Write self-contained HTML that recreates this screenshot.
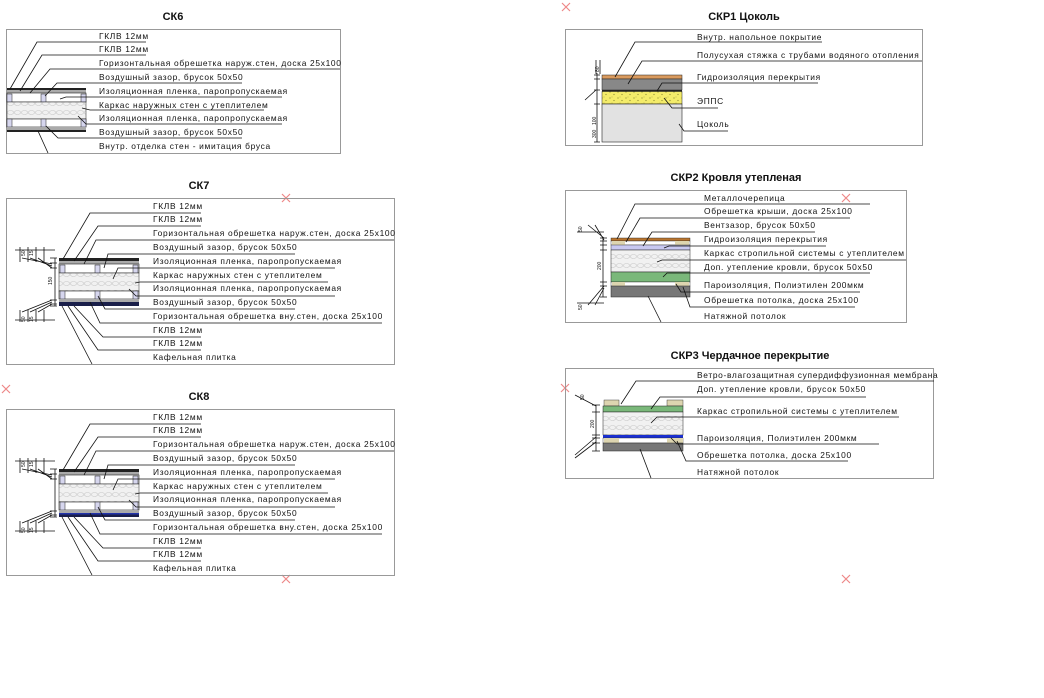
<!DOCTYPE html>
<html><head><meta charset="utf-8">
<style>
html,body{margin:0;padding:0;background:#fff;}
svg{display:block;}
text{font-family:"Liberation Sans","DejaVu Sans",sans-serif;font-size:8.4px;fill:#111;letter-spacing:0.68px;}
text.t{font-size:11px;font-weight:bold;letter-spacing:0;}
text.d{font-size:5px;letter-spacing:0;}
.fr{fill:none;stroke:#999;stroke-width:1;}
.ln{stroke:#111;stroke-width:0.8;fill:none;}
.x{stroke:#e88;stroke-width:1.2;}
</style></head><body>
<svg width="1044" height="698" viewBox="0 0 1044 698" xmlns="http://www.w3.org/2000/svg">
<defs>
<pattern id="ins" width="14" height="9" patternUnits="userSpaceOnUse">
<rect width="14" height="9" fill="#f1f1f1"/>
<path d="M0 4.5 Q3.5 0 7 4.5 Q10.5 9 14 4.5 M0 4.5 Q3.5 9 7 4.5 Q10.5 0 14 4.5" stroke="#c8c8c8" stroke-width="0.6" fill="none"/>
</pattern>
<pattern id="sand" width="8" height="6" patternUnits="userSpaceOnUse">
<rect width="8" height="6" fill="#f4ec6a"/>
<circle cx="2" cy="2" r="0.6" fill="#8a8a30"/><circle cx="6" cy="4.5" r="0.6" fill="#8a8a30"/><circle cx="4" cy="1" r="0.4" fill="#8a8a30"/>
</pattern>
</defs>

<g class="x">
<path d="M562 3 l8 8 M570 3 l-8 8"/>
<path d="M282 194 l8 8 M290 194 l-8 8"/>
<path d="M842 194 l8 8 M850 194 l-8 8"/>
<path d="M2 385 l8 8 M10 385 l-8 8"/>
<path d="M561 384 l8 8 M569 384 l-8 8"/>
<path d="M282 575 l8 8 M290 575 l-8 8"/>
<path d="M842 575 l8 8 M850 575 l-8 8"/>
</g>

<!-- СК6 -->
<text class="t" x="173" y="20" text-anchor="middle">СК6</text>
<rect class="fr" x="6.5" y="29.5" width="334" height="124"/>
<rect x="7" y="88" width="79" height="2" fill="#222"/>
<rect x="7" y="90" width="79" height="3" fill="#aaa"/>
<rect x="7" y="93" width="79" height="9" fill="#fff" stroke="#222" stroke-width="0.6"/>
<rect x="7" y="94" width="5" height="8" fill="#d6d6ee" stroke="#222" stroke-width="0.5"/>
<rect x="41" y="94" width="5" height="8" fill="#d6d6ee" stroke="#222" stroke-width="0.5"/>
<rect x="81" y="94" width="5" height="8" fill="#d6d6ee" stroke="#222" stroke-width="0.5"/>
<rect x="7" y="102" width="79" height="17" fill="url(#ins)" stroke="#222" stroke-width="0.5"/>
<rect x="7" y="119" width="79" height="8" fill="#fff" stroke="#222" stroke-width="0.6"/>
<rect x="7" y="119" width="5" height="8" fill="#d6d6ee" stroke="#222" stroke-width="0.5"/>
<rect x="41" y="119" width="5" height="8" fill="#d6d6ee" stroke="#222" stroke-width="0.5"/>
<rect x="81" y="119" width="5" height="8" fill="#d6d6ee" stroke="#222" stroke-width="0.5"/>
<rect x="7" y="127" width="79" height="3" fill="#aaa"/>
<rect x="7" y="130" width="79" height="2" fill="#222"/>
<g class="ln">
<path d="M10 89 L37 42 H146"/>
<path d="M20 91 L42 55 H146"/>
<path d="M30 93 L50 69 H340"/>
<path d="M45 96 L57 83 H242"/>
<path d="M60 99 L66 97 H282"/>
<path d="M82 108 L90 110 H264"/>
<path d="M78 116 L86 124 H282"/>
<path d="M46 126 L58 138 H242"/>
<path d="M38 131 L48 153"/>
</g>
<text x="99" y="39">ГКЛВ 12мм</text>
<text x="99" y="52">ГКЛВ 12мм</text>
<text x="99" y="66">Горизонтальная обрешетка наруж.стен, доска 25х100</text>
<text x="99" y="80">Воздушный зазор, брусок 50х50</text>
<text x="99" y="94">Изоляционная пленка, паропропускаемая</text>
<text x="99" y="108">Каркас наружных стен с утеплителем</text>
<text x="99" y="121">Изоляционная пленка, паропропускаемая</text>
<text x="99" y="135">Воздушный зазор, брусок 50х50</text>
<text x="99" y="149">Внутр. отделка стен - имитация бруса</text>

<!-- СК7 -->
<g>
<text class="t" x="199" y="189" text-anchor="middle">СК7</text>
<rect class="fr" x="6.5" y="198.5" width="388" height="166"/>
<rect x="59" y="258" width="80" height="3" fill="#222"/>
<rect x="59" y="261" width="80" height="3" fill="#aaa"/>
<rect x="59" y="264" width="80" height="9" fill="#fff" stroke="#222" stroke-width="0.6"/>
<rect x="60" y="265" width="5" height="8" fill="#d6d6ee" stroke="#222" stroke-width="0.5"/>
<rect x="95" y="265" width="5" height="8" fill="#d6d6ee" stroke="#222" stroke-width="0.5"/>
<rect x="133" y="265" width="5" height="8" fill="#d6d6ee" stroke="#222" stroke-width="0.5"/>
<rect x="59" y="273" width="80" height="18" fill="url(#ins)" stroke="#222" stroke-width="0.5"/>
<rect x="59" y="291" width="80" height="8" fill="#fff" stroke="#222" stroke-width="0.6"/>
<rect x="60" y="291" width="5" height="8" fill="#d6d6ee" stroke="#222" stroke-width="0.5"/>
<rect x="95" y="291" width="5" height="8" fill="#d6d6ee" stroke="#222" stroke-width="0.5"/>
<rect x="133" y="291" width="5" height="8" fill="#d6d6ee" stroke="#222" stroke-width="0.5"/>
<rect x="59" y="299" width="80" height="3" fill="#aaa"/>
<rect x="59" y="302" width="80" height="4" fill="#1a1f4a"/>
<g class="ln">
<path d="M63 259 L90 213 H201"/>
<path d="M74 261 L98 226 H201"/>
<path d="M84 264 L96 240 H394"/>
<path d="M104 268 L108 254 H295"/>
<path d="M113 279 L118 268 H335"/>
<path d="M135 283 L140 282 H328"/>
<path d="M129 289 L136 296 H335"/>
<path d="M98 296 L105 309 H295"/>
<path d="M90 302 L100 323 H382"/>
<path d="M74 306 L103 337 H201"/>
<path d="M68 306 L98 350 H201"/>
<path d="M62 306 L92 364"/>
<path d="M55 258 V306 M50 258 H57 M50 263 H57 M50 268 H57 M50 300 H57 M50 304 H57 M50 306 H57"/>
<path d="M15 250 H55 M15 320 H55 M20 247 V262 M28 247 V262 M36 247 V262 M44 247 V262 M20 310 V322 M28 310 V322 M36 310 V322 M44 310 V322"/>
<path d="M22 258 L52 264 M30 258 L52 266 M38 258 L52 268 M22 312 L52 300 M30 312 L52 302 M38 312 L52 304"/>
</g>
<text class="d" x="0" y="0" transform="translate(25,256) rotate(-90)">50</text>
<text class="d" x="0" y="0" transform="translate(33,256) rotate(-90)">15</text>
<text class="d" x="0" y="0" transform="translate(25,322) rotate(-90)">50</text>
<text class="d" x="0" y="0" transform="translate(33,322) rotate(-90)">15</text>
<text class="d" x="0" y="0" transform="translate(52,285) rotate(-90)">150</text>
<text x="153" y="209">ГКЛВ 12мм</text>
<text x="153" y="222">ГКЛВ 12мм</text>
<text x="153" y="236">Горизонтальная обрешетка наруж.стен, доска 25х100</text>
<text x="153" y="250">Воздушный зазор, брусок 50х50</text>
<text x="153" y="264">Изоляционная пленка, паропропускаемая</text>
<text x="153" y="278">Каркас наружных стен с утеплителем</text>
<text x="153" y="291">Изоляционная пленка, паропропускаемая</text>
<text x="153" y="305">Воздушный зазор, брусок 50х50</text>
<text x="153" y="319">Горизонтальная обрешетка вну.стен, доска 25х100</text>
<text x="153" y="333">ГКЛВ 12мм</text>
<text x="153" y="346">ГКЛВ 12мм</text>
<text x="153" y="360">Кафельная плитка</text>
</g>

<!-- СК8 -->
<g transform="translate(0,211)">
<text class="t" x="199" y="189" text-anchor="middle">СК8</text>
<rect class="fr" x="6.5" y="198.5" width="388" height="166"/>
<rect x="59" y="258" width="80" height="3" fill="#222"/>
<rect x="59" y="261" width="80" height="3" fill="#aaa"/>
<rect x="59" y="264" width="80" height="9" fill="#fff" stroke="#222" stroke-width="0.6"/>
<rect x="60" y="265" width="5" height="8" fill="#d6d6ee" stroke="#222" stroke-width="0.5"/>
<rect x="95" y="265" width="5" height="8" fill="#d6d6ee" stroke="#222" stroke-width="0.5"/>
<rect x="133" y="265" width="5" height="8" fill="#d6d6ee" stroke="#222" stroke-width="0.5"/>
<rect x="59" y="273" width="80" height="18" fill="url(#ins)" stroke="#222" stroke-width="0.5"/>
<rect x="59" y="291" width="80" height="8" fill="#fff" stroke="#222" stroke-width="0.6"/>
<rect x="60" y="291" width="5" height="8" fill="#d6d6ee" stroke="#222" stroke-width="0.5"/>
<rect x="95" y="291" width="5" height="8" fill="#d6d6ee" stroke="#222" stroke-width="0.5"/>
<rect x="133" y="291" width="5" height="8" fill="#d6d6ee" stroke="#222" stroke-width="0.5"/>
<rect x="59" y="299" width="80" height="3" fill="#aaa"/>
<rect x="59" y="302" width="80" height="1.5" fill="#2233aa"/>
<rect x="59" y="303.5" width="80" height="2.5" fill="#1a1f4a"/>
<g class="ln">
<path d="M63 259 L90 213 H201"/>
<path d="M74 261 L98 226 H201"/>
<path d="M84 264 L96 240 H394"/>
<path d="M104 268 L108 254 H295"/>
<path d="M113 279 L118 268 H335"/>
<path d="M135 283 L140 282 H328"/>
<path d="M129 289 L136 296 H335"/>
<path d="M98 296 L105 309 H295"/>
<path d="M90 302 L100 323 H382"/>
<path d="M74 306 L103 337 H201"/>
<path d="M68 306 L98 350 H201"/>
<path d="M62 306 L92 364"/>
<path d="M55 258 V306 M50 258 H57 M50 263 H57 M50 268 H57 M50 300 H57 M50 304 H57 M50 306 H57"/>
<path d="M15 250 H55 M15 320 H55 M20 247 V262 M28 247 V262 M36 247 V262 M44 247 V262 M20 310 V322 M28 310 V322 M36 310 V322 M44 310 V322"/>
<path d="M22 258 L52 264 M30 258 L52 266 M38 258 L52 268 M22 312 L52 300 M30 312 L52 302 M38 312 L52 304"/>
</g>
<text class="d" x="0" y="0" transform="translate(25,256) rotate(-90)">50</text>
<text class="d" x="0" y="0" transform="translate(33,256) rotate(-90)">15</text>
<text class="d" x="0" y="0" transform="translate(25,322) rotate(-90)">50</text>
<text class="d" x="0" y="0" transform="translate(33,322) rotate(-90)">15</text>
<text x="153" y="209">ГКЛВ 12мм</text>
<text x="153" y="222">ГКЛВ 12мм</text>
<text x="153" y="236">Горизонтальная обрешетка наруж.стен, доска 25х100</text>
<text x="153" y="250">Воздушный зазор, брусок 50х50</text>
<text x="153" y="264">Изоляционная пленка, паропропускаемая</text>
<text x="153" y="278">Каркас наружных стен с утеплителем</text>
<text x="153" y="291">Изоляционная пленка, паропропускаемая</text>
<text x="153" y="305">Воздушный зазор, брусок 50х50</text>
<text x="153" y="319">Горизонтальная обрешетка вну.стен, доска 25х100</text>
<text x="153" y="333">ГКЛВ 12мм</text>
<text x="153" y="346">ГКЛВ 12мм</text>
<text x="153" y="360">Кафельная плитка</text>
</g>

<!-- СКР1 -->
<text class="t" x="744" y="20" text-anchor="middle">СКР1 Цоколь</text>
<rect class="fr" x="565.5" y="29.5" width="357" height="116"/>
<rect x="602" y="75" width="80" height="4" fill="#d99a5e" stroke="#222" stroke-width="0.5"/>
<rect x="602" y="79" width="80" height="11" fill="#888" stroke="#222" stroke-width="0.5"/>
<rect x="602" y="90" width="80" height="1.5" fill="#222"/>
<rect x="602" y="91.5" width="80" height="12.5" fill="url(#sand)" stroke="#222" stroke-width="0.5"/>
<rect x="602" y="104" width="80" height="38" fill="#e2e2e2" stroke="#222" stroke-width="0.6"/>
<g class="ln">
<path d="M615 77 L635 42 H822"/>
<path d="M628 84 L642 61 H922"/>
<path d="M657 91 L662 83 H818"/>
<path d="M664 98 L672 108 H718"/>
<path d="M679 124 L684 131 H728"/>
<path d="M597 73 V142 M594 75 H600 M594 79 H600 M594 90 H600 M594 104 H600 M594 142 H600"/>
<path d="M596 60 V74 M600 60 V74 M585 100 L596 90"/>
</g>
<text class="d" x="0" y="0" transform="translate(599,72) rotate(-90)">80</text>
<text class="d" x="0" y="0" transform="translate(596,125) rotate(-90)">100</text>
<text class="d" x="0" y="0" transform="translate(596,138) rotate(-90)">300</text>
<text x="697" y="40">Внутр. напольное покрытие</text>
<text x="697" y="58">Полусухая стяжка с трубами водяного отопления</text>
<text x="697" y="80">Гидроизоляция перекрытия</text>
<text x="697" y="104">ЭППС</text>
<text x="697" y="127">Цоколь</text>

<!-- СКР2 -->
<text class="t" x="736" y="181" text-anchor="middle">СКР2 Кровля утепленая</text>
<rect class="fr" x="565.5" y="190.5" width="341" height="132"/>
<rect x="611" y="238" width="79" height="3" fill="#b8742e" stroke="#222" stroke-width="0.4"/>
<rect x="611" y="241" width="79" height="4" fill="#fff" stroke="#222" stroke-width="0.4"/>
<rect x="612" y="241" width="13" height="4" fill="#ddd5b0"/>
<rect x="675" y="241" width="14" height="4" fill="#ddd5b0"/>
<rect x="611" y="245" width="79" height="5" fill="#c8c8f0" stroke="#222" stroke-width="0.4"/>
<rect x="611" y="250" width="79" height="22" fill="url(#ins)" stroke="#222" stroke-width="0.5"/>
<rect x="611" y="272" width="79" height="10" fill="#7ab87a" stroke="#222" stroke-width="0.5"/>
<rect x="611" y="282" width="79" height="4" fill="#fff" stroke="#222" stroke-width="0.4"/>
<rect x="612" y="282" width="13" height="4" fill="#ddd5b0"/>
<rect x="675" y="282" width="14" height="4" fill="#ddd5b0"/>
<rect x="611" y="286" width="79" height="11" fill="#777" stroke="#222" stroke-width="0.5"/>
<g class="ln">
<path d="M617 239 L635 204 H870"/>
<path d="M626 242 L640 218 H850"/>
<path d="M643 246 L652 232 H815"/>
<path d="M664 248 L669 246 H826"/>
<path d="M657 262 L662 260 H906"/>
<path d="M663 277 L667 273 H870"/>
<path d="M676 284 L681 292 H860"/>
<path d="M683 287 L690 307 H855"/>
<path d="M648 296 L661 322"/>
<path d="M603 238 V297 M600 238 H607 M600 241 H607 M600 245 H607 M600 250 H607 M600 282 H607 M600 286 H607 M600 297 H607"/>
<path d="M577 232 H604 M577 303 H604 M588 225 L604 238 M595 225 L604 240 M588 305 L604 286 M595 305 L604 288"/>
</g>
<text class="d" x="0" y="0" transform="translate(582,232) rotate(-90)">50</text>
<text class="d" x="0" y="0" transform="translate(601,270) rotate(-90)">200</text>
<text class="d" x="0" y="0" transform="translate(582,310) rotate(-90)">50</text>
<text x="704" y="201">Металлочерепица</text>
<text x="704" y="214">Обрешетка крыши, доска 25х100</text>
<text x="704" y="228">Вентзазор, брусок 50х50</text>
<text x="704" y="242">Гидроизоляция перекрытия</text>
<text x="704" y="256">Каркас стропильной системы с утеплителем</text>
<text x="704" y="270">Доп. утепление кровли, брусок 50х50</text>
<text x="704" y="288">Пароизоляция, Полиэтилен 200мкм</text>
<text x="704" y="303">Обрешетка потолка, доска 25х100</text>
<text x="704" y="319">Натяжной потолок</text>

<!-- СКР3 -->
<text class="t" x="750" y="359" text-anchor="middle">СКР3 Чердачное перекрытие</text>
<rect class="fr" x="565.5" y="368.5" width="368" height="110"/>
<rect x="604" y="400" width="15" height="6" fill="#ddd5b0" stroke="#222" stroke-width="0.4"/>
<rect x="667" y="400" width="16" height="6" fill="#ddd5b0" stroke="#222" stroke-width="0.4"/>
<rect x="603" y="406" width="80" height="6" fill="#7ab87a" stroke="#222" stroke-width="0.5"/>
<rect x="603" y="412" width="80" height="23" fill="url(#ins)" stroke="#222" stroke-width="0.5"/>
<rect x="603" y="435" width="80" height="3" fill="#1a2fd0"/>
<rect x="603" y="438" width="80" height="5" fill="#fff" stroke="#222" stroke-width="0.4"/>
<rect x="604" y="438" width="15" height="5" fill="#ddd5b0"/>
<rect x="667" y="438" width="16" height="5" fill="#ddd5b0"/>
<rect x="603" y="443" width="80" height="8" fill="#777" stroke="#222" stroke-width="0.5"/>
<g class="ln">
<path d="M621 404 L636 381 H934"/>
<path d="M651 409 L660 397 H866"/>
<path d="M651 423 L657 417 H899"/>
<path d="M671 438 L677 444 H879"/>
<path d="M677 441 L686 461 H848"/>
<path d="M640 449 L651 478"/>
<path d="M596 405 V451 M592 405 H600 M592 412 H600 M592 435 H600 M592 438 H600 M592 443 H600 M592 451 H600"/>
<path d="M575 395 L596 406 M575 455 L596 437 M575 458 L596 442"/>
</g>
<text class="d" x="0" y="0" transform="translate(584,400) rotate(-90)">50</text>
<text class="d" x="0" y="0" transform="translate(594,428) rotate(-90)">200</text>
<text x="697" y="378">Ветро-влагозащитная супердиффузионная мембрана</text>
<text x="697" y="392">Доп. утепление кровли, брусок 50х50</text>
<text x="697" y="414">Каркас стропильной системы с утеплителем</text>
<text x="697" y="441">Пароизоляция, Полиэтилен 200мкм</text>
<text x="697" y="458">Обрешетка потолка, доска 25х100</text>
<text x="697" y="475">Натяжной потолок</text>
</svg>
</body></html>
